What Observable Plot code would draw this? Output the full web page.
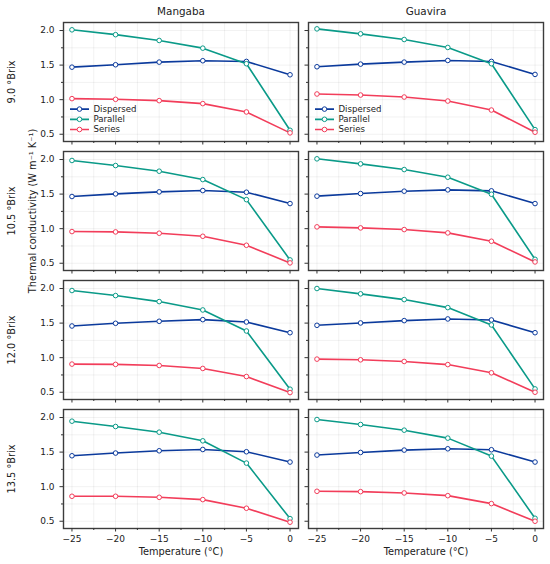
<!DOCTYPE html>
<html><head><meta charset="utf-8">
<script src="https://cdn.jsdelivr.net/npm/d3@7"></script>
<script src="https://cdn.jsdelivr.net/npm/@observablehq/plot@0.6"></script>
<style>body{margin:0;background:#fff}</style>
</head><body><div id="chart"></div>
<script>
const temperatures = [-25, -20, -15, -10, -5, 0];
const fruits = ["Mangaba", "Guavira"];
const brixLevels = ["9.0 °Brix", "10.5 °Brix", "12.0 °Brix", "13.5 °Brix"];
const models = ["Dispersed", "Parallel", "Series"];
const modelColors = ["#0b3a9c", "#0a9a88", "#f23d5a"];
const majorX = [-25, -20, -15, -10, -5, 0];
const minorX = [-22.5, -17.5, -12.5, -7.5, -2.5];
const majorY = [0.5, 1.0, 1.5, 2.0];
const minorY = [0.75, 1.25, 1.75];
const yTitle = "Thermal conductivity (W m⁻¹ K⁻¹)";
const xTitle = "Temperature (°C)";

// rows follow brixLevels, columns follow temperatures
const mangabaDispersed = [
  [1.470, 1.505, 1.543, 1.563, 1.553, 1.360],
  [1.465, 1.503, 1.532, 1.551, 1.527, 1.363],
  [1.458, 1.497, 1.526, 1.550, 1.516, 1.361],
  [1.447, 1.486, 1.519, 1.538, 1.505, 1.356]];
const mangabaParallel = [
  [2.010, 1.940, 1.856, 1.745, 1.520, 0.557],
  [1.986, 1.913, 1.831, 1.710, 1.420, 0.548],
  [1.971, 1.898, 1.811, 1.690, 1.386, 0.544],
  [1.947, 1.870, 1.788, 1.663, 1.341, 0.538]];
const mangabaSeries = [
  [1.015, 1.005, 0.986, 0.943, 0.822, 0.520],
  [0.958, 0.953, 0.934, 0.890, 0.760, 0.505],
  [0.907, 0.903, 0.887, 0.844, 0.727, 0.495],
  [0.861, 0.861, 0.846, 0.813, 0.688, 0.486]];
const guaviraDispersed = [
  [1.476, 1.514, 1.543, 1.567, 1.553, 1.365],
  [1.470, 1.508, 1.542, 1.561, 1.547, 1.363],
  [1.468, 1.502, 1.536, 1.560, 1.545, 1.361],
  [1.457, 1.495, 1.529, 1.548, 1.534, 1.356]];
const guaviraParallel = [
  [2.024, 1.952, 1.870, 1.755, 1.520, 0.567],
  [2.010, 1.937, 1.855, 1.744, 1.498, 0.557],
  [2.000, 1.923, 1.840, 1.724, 1.473, 0.548],
  [1.971, 1.899, 1.817, 1.702, 1.442, 0.543]];
const guaviraSeries = [
  [1.082, 1.067, 1.038, 0.980, 0.850, 0.529],
  [1.026, 1.011, 0.987, 0.939, 0.818, 0.519],
  [0.979, 0.969, 0.945, 0.900, 0.781, 0.500],
  [0.933, 0.928, 0.909, 0.870, 0.755, 0.500]];

const tables = {
  Mangaba: {Dispersed: mangabaDispersed, Parallel: mangabaParallel, Series: mangabaSeries},
  Guavira: {Dispersed: guaviraDispersed, Parallel: guaviraParallel, Series: guaviraSeries}
};
const rows = [];
for (const fruit of fruits)
  for (const model of models)
    tables[fruit][model].forEach((vals, bi) =>
      vals.forEach((k, ti) => rows.push({fruit, brix: brixLevels[bi], model, T: temperatures[ti], k})));

const ink = "#222";
const axisColor = "#333";
const legendLine = {draw(ctx) { ctx.moveTo(-9.5, 0); ctx.lineTo(-2.4, 0); ctx.moveTo(2.4, 0); ctx.lineTo(9.5, 0); }};
const legendMarks = [];
models.forEach((m, i) => {
  const data = fruits.map(f => ({fruit: f, brix: brixLevels[0], model: m}));
  const dy = -32.4 + i * 10.2;
  legendMarks.push(
    Plot.dot(data, {fx: "fruit", fy: "brix", frameAnchor: "bottom-left", dx: 16, dy, symbol: legendLine, fill: "none", stroke: modelColors[i], strokeWidth: 1.7}),
    Plot.dot(data, {fx: "fruit", fy: "brix", frameAnchor: "bottom-left", dx: 16, dy, r: 2.3, fill: "white", stroke: modelColors[i], strokeWidth: 1}),
    Plot.text(data, {fx: "fruit", fy: "brix", frameAnchor: "bottom-left", dx: 30, dy, text: "model", textAnchor: "start", lineAnchor: "middle", fontSize: 8.6, fill: ink})
  );
});

const chart = Plot.plot({
  width: 550, height: 564,
  marginLeft: 62, marginRight: 6.7, marginTop: 21.7, marginBottom: 35.7,
  style: {fontFamily: "DejaVu Sans", background: "#fff"},
  fx: {domain: fruits, paddingInner: 0.0407, paddingOuter: 0, axis: null},
  fy: {domain: brixLevels, paddingInner: 0.079, paddingOuter: 0, axis: null},
  x: {domain: [-25.97, 0.97]},
  y: {domain: [0.395, 2.116]},
  color: {domain: models, range: modelColors},
  marks: [
    Plot.gridX([...majorX, ...minorX], {stroke: "#000", strokeOpacity: 0.07, strokeWidth: 0.8}),
    Plot.gridY([...majorY, ...minorY], {stroke: "#000", strokeOpacity: 0.07, strokeWidth: 0.8}),
    Plot.line(rows, {fx: "fruit", fy: "brix", x: "T", y: "k", z: "model", stroke: "model", strokeWidth: 1.6}),
    Plot.dot(rows, {fx: "fruit", fy: "brix", x: "T", y: "k", stroke: "model", fill: "white", r: 2.3, strokeWidth: 1}),
    Plot.frame({stroke: "#3c3c3c", strokeWidth: 1.4}),
    Plot.axisX(majorX, {anchor: "bottom", tickSize: 3.5, tickFormat: () => "", facetAnchor: null, stroke: axisColor, label: null}),
    Plot.axisX(minorX, {anchor: "bottom", tickSize: 2, tickFormat: () => "", facetAnchor: null, stroke: axisColor, label: null}),
    Plot.axisX(majorX, {anchor: "bottom", tickSize: 0, tickPadding: 7.5, tickFormat: d => d3.format("d")(d).replace("-", "−"), facetAnchor: "bottom", fontSize: 9, fill: ink, label: null}),
    Plot.axisY(majorY, {anchor: "left", tickSize: 3.5, tickFormat: () => "", facetAnchor: null, stroke: axisColor, label: null}),
    Plot.axisY(minorY, {anchor: "left", tickSize: 2, tickFormat: () => "", facetAnchor: null, stroke: axisColor, label: null}),
    Plot.axisY(majorY, {anchor: "left", tickSize: 0, tickPadding: 9, tickFormat: d3.format(".1f"), facetAnchor: "left", fontSize: 9, fill: ink, label: null}),
    ...legendMarks,
    Plot.text(fruits.map(f => ({fruit: f, brix: brixLevels[0]})), {fx: "fruit", fy: "brix", text: "fruit", frameAnchor: "top", dy: -10.7, lineAnchor: "middle", fontSize: 10.4, fill: ink}),
    Plot.text(fruits.map(f => ({fruit: f, brix: brixLevels[3]})), {fx: "fruit", fy: "brix", text: () => xTitle, frameAnchor: "bottom", dy: 23.5, lineAnchor: "middle", fontSize: 9.8, fill: ink}),
    Plot.text(brixLevels.map(b => ({fruit: fruits[0], brix: b})), {fx: "fruit", fy: "brix", text: "brix", frameAnchor: "left", dx: -52, rotate: -90, textAnchor: "middle", lineAnchor: "middle", fontSize: 9.8, fill: ink}),
    Plot.text([{fruit: fruits[0], brix: brixLevels[1]}], {fx: "fruit", fy: "brix", text: () => yTitle, frameAnchor: "left", dx: -31, rotate: -90, textAnchor: "middle", lineAnchor: "middle", fontSize: 9.8, fill: ink})
  ]
});
document.getElementById("chart").appendChild(chart);
</script>
</body></html>
